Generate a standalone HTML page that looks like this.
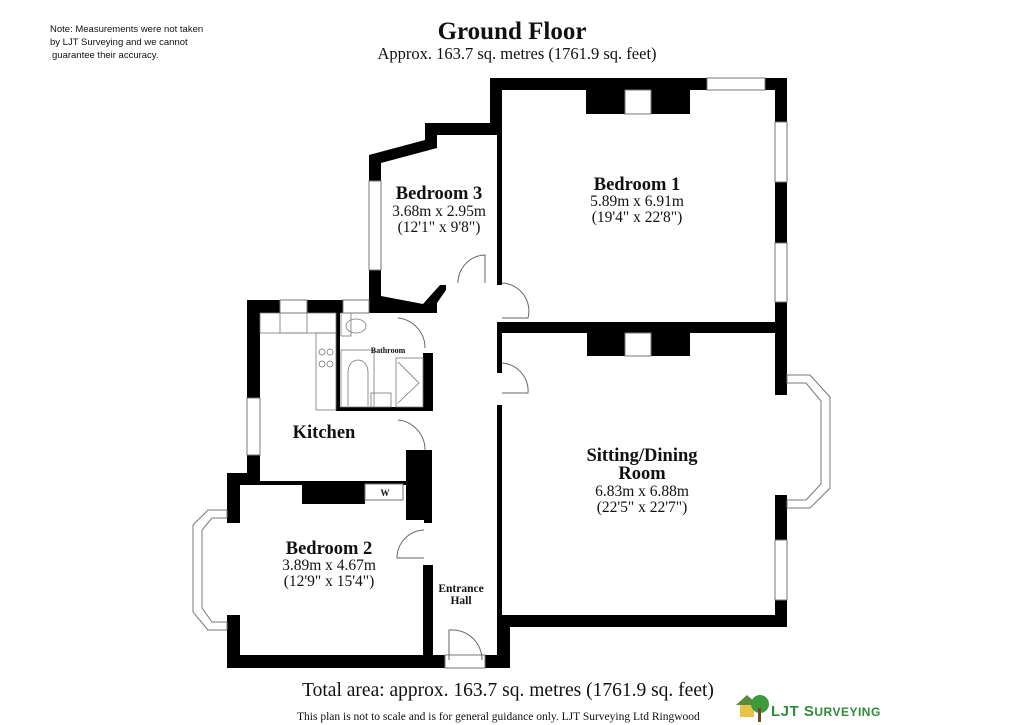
<!DOCTYPE html>
<html><head><meta charset="utf-8"><style>
html,body{margin:0;padding:0;background:#fff;}
svg{display:block;}
.s{font-family:"Liberation Serif",serif;fill:#111;}
</style></head><body>
<svg width="1024" height="725" viewBox="0 0 1024 725" xmlns="http://www.w3.org/2000/svg">
<rect width="1024" height="725" fill="#fff"/>
<text x="50" y="32" font-family="Liberation Sans,sans-serif" font-size="9.5" fill="#111">Note: Measurements were not taken</text>
<text x="50" y="45" font-family="Liberation Sans,sans-serif" font-size="9.5" fill="#111">by LJT Surveying and we cannot</text>
<text x="52" y="58" font-family="Liberation Sans,sans-serif" font-size="9.5" fill="#111">guarantee their accuracy.</text>
<text x="512" y="39" class="s" font-size="25" font-weight="bold" text-anchor="middle">Ground Floor</text>
<text x="517" y="59" class="s" font-size="16.5" text-anchor="middle">Approx. 163.7 sq. metres (1761.9 sq. feet)</text>

<g fill="#000">
<rect x="490" y="78" width="297" height="12"/>
<rect x="490" y="78" width="12" height="57"/>
<rect x="497" y="135" width="5" height="150"/>
<rect x="775" y="78" width="12" height="255"/>
<rect x="586" y="90" width="104" height="24"/>
<rect x="497" y="322" width="290" height="11"/>
<polygon points="369,155 425,140 425,123 502,123 502,135 437,135 437,148 381,163 381,296 423,304 440,285 446,285 446,290 437,303 437,313 369,313"/>
<rect x="247" y="300" width="123" height="13"/>
<rect x="247" y="300" width="13" height="182"/>
<rect x="227" y="473" width="33" height="12"/>
<rect x="336" y="313" width="4" height="98"/>
<rect x="336" y="407" width="97" height="4"/>
<rect x="423" y="353" width="10" height="58"/>
<rect x="240" y="481" width="166" height="4"/>
<rect x="302" y="485" width="63" height="19"/>
<rect x="406" y="450" width="26" height="70"/>
<rect x="424" y="515" width="8" height="8"/>
<rect x="227" y="473" width="13" height="50"/>
<rect x="227" y="615" width="13" height="53"/>
<rect x="227" y="655" width="218" height="13"/>
<rect x="423" y="565" width="10" height="103"/>
<rect x="497" y="333" width="5" height="40"/>
<rect x="497" y="405" width="5" height="210"/>
<rect x="587" y="333" width="103" height="23"/>
<rect x="775" y="333" width="12" height="62"/>
<rect x="775" y="495" width="12" height="45"/>
<rect x="775" y="600" width="12" height="27"/>
<rect x="497" y="615" width="290" height="12"/>
<rect x="497" y="615" width="13" height="53"/>
<rect x="485" y="655" width="25" height="13"/>
</g>
<g fill="#fff" stroke="#777" stroke-width="1">
<rect x="707" y="78" width="58" height="12"/>
<rect x="775" y="122" width="12" height="60"/>
<rect x="775" y="243" width="12" height="59"/>
<rect x="369" y="181" width="12" height="89"/>
<rect x="280" y="300" width="27" height="13"/>
<rect x="343" y="300" width="26" height="13"/>
<rect x="247" y="398" width="13" height="57"/>
<rect x="775" y="540" width="12" height="60"/>
<rect x="445" y="655" width="40" height="13"/>
<rect x="625" y="90" width="26" height="24"/>
<rect x="625" y="333" width="26" height="23"/>
<rect x="365" y="484" width="38" height="16"/>
</g>
<g fill="#fff" stroke="#777" stroke-width="1">
<polygon points="787,375 810,375 830,397 830,488 810,508 787,508 787,500 806,500 821,484 821,401 806,383 787,383"/>
<polygon points="227,510 208,510 193,525 193,612 208,630 227,630 227,622 212,622 202,608 202,530 212,518 227,518"/>
</g>
<g fill="none" stroke="#666" stroke-width="1">
<path d="M458,283 A28,28 0 0 1 485,255 L485,283"/>
<path d="M502,283 A28,28 0 0 1 528,318 L502,318"/>
<path d="M398,318 A30,30 0 0 1 425,348"/>
<path d="M398,420 A30,30 0 0 1 425,450"/>
<path d="M502,363 A28,28 0 0 1 528,393 L502,393"/>
<path d="M424,530 A28,28 0 0 0 397,558 L424,558"/>
<path d="M449,660 L449,630 A30,30 0 0 1 482,660"/>
</g>
<g fill="none" stroke="#777" stroke-width="0.8">
<rect x="260" y="313" width="76" height="20"/>
<rect x="316" y="333" width="20" height="77"/>
<rect x="280" y="313" width="27" height="20"/>
<circle cx="322" cy="352" r="3"/><circle cx="330" cy="352" r="3"/>
<circle cx="322" cy="364" r="3"/><circle cx="330" cy="364" r="3"/>
<rect x="341" y="313" width="10" height="23"/>
<ellipse cx="356" cy="326" rx="10" ry="7"/>
<rect x="341" y="350" width="33" height="57"/>
<path d="M348,406 L348,372 A10,12 0 0 1 368,372 L368,406"/>
<rect x="371" y="393" width="20" height="14"/>
<rect x="396" y="358" width="27" height="49"/>
<path d="M398,362 L419,383 L398,403"/>
</g>
<g class="s" text-anchor="middle">
<text x="439" y="199" font-size="18.5" font-weight="bold">Bedroom 3</text>
<text x="439" y="216" font-size="15.5">3.68m x 2.95m</text>
<text x="439" y="232" font-size="15.5">(12'1" x 9'8")</text>
<text x="637" y="190" font-size="18.5" font-weight="bold">Bedroom 1</text>
<text x="637" y="206" font-size="15.5">5.89m x 6.91m</text>
<text x="637" y="222" font-size="15.5">(19'4" x 22'8")</text>
<text x="388" y="353" font-size="8" font-weight="bold">Bathroom</text>
<text x="324" y="438" font-size="18.5" font-weight="bold">Kitchen</text>
<text x="385" y="496" font-size="9" font-weight="bold">W</text>
<text x="642" y="461" font-size="18.5" font-weight="bold">Sitting/Dining</text>
<text x="642" y="479" font-size="18.5" font-weight="bold">Room</text>
<text x="642" y="496" font-size="15.5">6.83m x 6.88m</text>
<text x="642" y="512" font-size="15.5">(22'5" x 22'7")</text>
<text x="329" y="554" font-size="18.5" font-weight="bold">Bedroom 2</text>
<text x="329" y="570" font-size="15.5">3.89m x 4.67m</text>
<text x="329" y="586" font-size="15.5">(12'9" x 15'4")</text>
<text x="461" y="592" font-size="11.5" font-weight="bold">Entrance</text>
<text x="461" y="604" font-size="11.5" font-weight="bold">Hall</text>
</g>
<text x="508" y="696" class="s" font-size="19.5" text-anchor="middle">Total area: approx. 163.7 sq. metres (1761.9 sq. feet)</text>
<text x="297" y="720" class="s" font-size="11.5">This plan is not to scale and is for general guidance only. LJT Surveying Ltd Ringwood</text>
<g>
<rect x="740" y="703" width="14" height="14" fill="#e8c24a"/>
<polygon points="736,705 747,695 758,705" fill="#5a8a3a"/>
<circle cx="760" cy="704" r="9" fill="#3c9a3c"/>
<rect x="758" y="708" width="3" height="14" fill="#6b4a2a"/>
<text x="771" y="716" font-family="Liberation Sans,sans-serif" font-size="15" font-weight="bold" fill="#2e8b3a" letter-spacing="0.5">LJT S<tspan font-size="12">URVEYING</tspan></text>
</g>
</svg>
</body></html>
